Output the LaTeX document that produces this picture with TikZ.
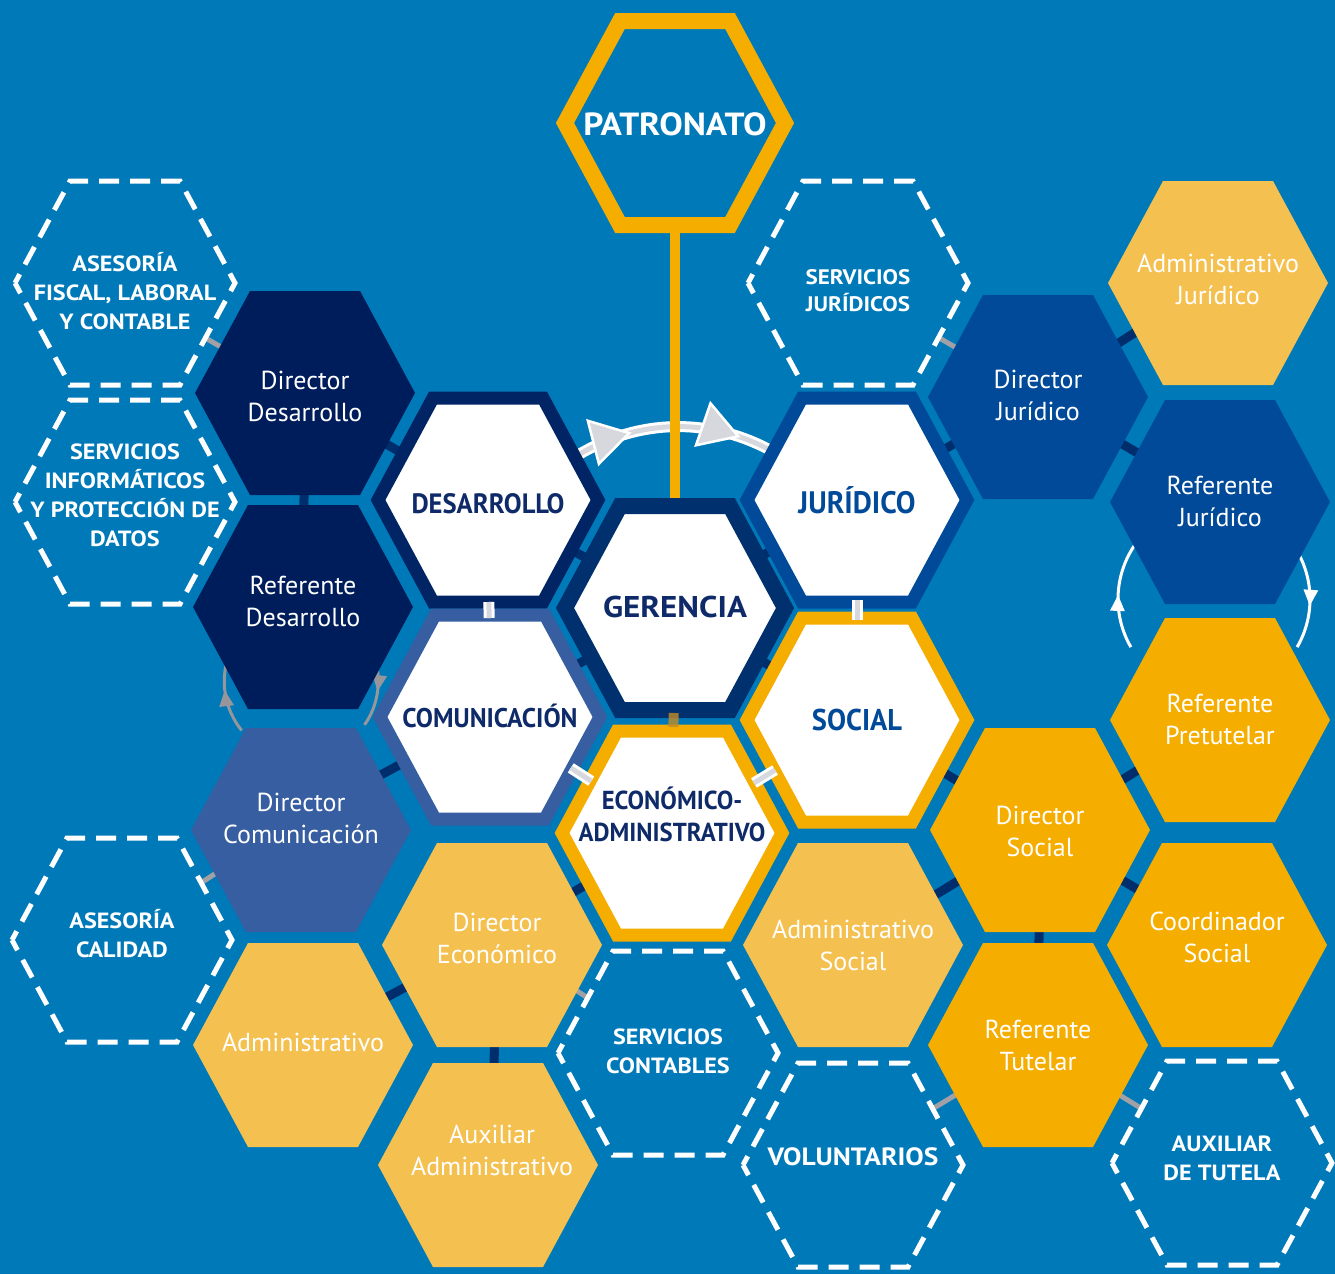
\documentclass[tikz,border=0pt]{standalone}
\usepackage{fontspec}
\setmainfont{PT Sans}
\newfontfamily\hubfont[FakeStretch=0.95]{PT Sans}
\newfontfamily\widefont[FakeStretch=1.1]{PT Sans}
\usepackage{tikz}
\usetikzlibrary{positioning, calc, arrows.meta, shapes.geometric, decorations.markings}
\usepackage{xcolor}

\definecolor{bgblue}{RGB}{0,121,185}
\definecolor{cellnavy}{RGB}{0,29,91}
\definecolor{ringnavy}{RGB}{0,36,100}
\definecolor{gernavy}{RGB}{0,48,110}
\definecolor{jurblue}{RGB}{0,74,153}
\definecolor{comblue}{RGB}{54,94,160}
\definecolor{cellorange}{RGB}{245,173,0}
\definecolor{lightorange}{RGB}{244,192,79}
\definecolor{textnavy}{RGB}{14,42,105}
\definecolor{linknavy}{RGB}{0,45,108}
\definecolor{linkgray}{RGB}{160,160,165}
\definecolor{flowgray}{RGB}{214,216,222}
\definecolor{loopgray}{RGB}{150,150,155}
\definecolor{ecobar}{RGB}{195,140,35}

\pgfdeclarelayer{background}
\pgfdeclarelayer{links}
\pgfsetlayers{background,links,main}

\tikzset{
	pics/hexa/.style={code={% flat topped hexagon round the pic's origin
		\path[pic actions] (-110,0) -- (-55,-102) -- (55,-102) -- (110,0) -- (55,102) -- (-55,102) -- cycle;
	}},
}

\begin{document}
\begin{tikzpicture}[
		% GLOBAL CFG
		x=1pt, y=-1pt,
		font=\fontsize{26}{32}\selectfont,
		% Styles
		cell/.style={% For the coloured posts
			line join=miter,
		},
		hub/.style={% For the central areas
			fill=white,
			line width=13pt,
		},
		dashcell/.style={% For the external services
			draw=white,
			fill=bgblue,
			line width=5pt,
			dash pattern=on 20pt off 11pt,
			dash phase=10pt,
		},
		celltext/.style={text=white, align=center},
		dashtext/.style={% bold white capitals
			text=white, align=center,
			font=\widefont\bfseries\fontsize{22}{29}\selectfont
		},
		hubtext/.style={% narrow bold capitals
			text=textnavy, align=center,
			font=\hubfont\bfseries\fontsize{28}{32}\selectfont
		},
		navylink/.style={draw=linknavy, line width=9pt},
		graylink/.style={draw=linkgray, line width=5pt},
		lightlink/.style={draw=white, double=flowgray, double distance=5pt, line width=3pt},
		loopline/.style={% arcs with an arrow head half way
			line width=3pt,
			postaction={decorate},
			decoration={markings, mark=at position #1 with {\arrow{Triangle[length=16pt,width=14pt]}}}
		},
		flowband/.style={draw=white, double=flowgray, double distance=5pt, line width=3pt},
		flowtip/.style={% big heads on the band
			isosceles triangle,
			isosceles triangle apex angle=62,
			fill=flowgray, draw=white, line width=2.5pt,
			minimum size=37pt, inner sep=0pt,
		},
		]
		\useasboundingbox (0,0) rectangle (1335,1274);
		\begin{pgfonlayer}{background}
			\fill[bgblue] (0,0) rectangle (1335,1274);
		\end{pgfonlayer}
		
		% First column: external services
		\pic[dashcell] at (125,283) {hexa};
		\node[dashtext] (fiscal) at (125,291) {ASESORÍA\\FISCAL, LABORAL\\Y CONTABLE};
		\pic[dashcell] at (125,502) {hexa};
		\node[dashtext] (informat) at (125,495) {SERVICIOS\\INFORMÁTICOS\\Y PROTECCIÓN DE\\DATOS};
		\pic[dashcell] at (122,940) {hexa};
		\node[dashtext] (calidad) at (122,934) {ASESORÍA\\CALIDAD};
		
		% Second column
		\pic[cell, fill=cellnavy] at (305,393) {hexa};
		\node[celltext] (dirdes) at (305,396) {Director\\Desarrollo};
		\pic[cell, fill=cellnavy] at (303,607) {hexa};
		\node[celltext] (refdes) at (303,601) {Referente\\Desarrollo};
		\pic[cell, fill=comblue] at (301,830) {hexa};
		\node[celltext] (dircom) at (301,818) {Director\\Comunicación};
		\pic[cell, fill=lightorange] at (303,1045) {hexa};
		\node[celltext] (admin) at (303,1042) {Administrativo};
		
		% Third column
		\pic[hub, draw=ringnavy] at (488,500) {hexa};
		\node[hubtext] (desarrollo) at (488,504) {DESARROLLO};
		\pic[hub, draw=comblue] at (490,717) {hexa};
		\node[hubtext, font=\hubfont\bfseries\fontsize{27}{32}\selectfont] (comunicacion) at (490,716) {COMUNICACIÓN};
		\pic[cell, fill=lightorange] at (492,945) {hexa};
		\node[celltext] (direco) at (497,938) {Director\\Económico};
		\pic[cell, fill=lightorange] at (488,1165) {hexa};
		\node[celltext] (auxadm) at (492,1150) {Auxiliar\\Administrativo};
		
		% Middle column
		\pic[draw=cellorange, fill=bgblue, line width=16pt] at (675,123) {hexa};
		\node[text=white, font=\widefont\bfseries\fontsize{32}{34}\selectfont] (patronato) at (675,124) {PATRONATO};
		\pic[hub, draw=gernavy, line width=16pt] at (675,608) {hexa};
		\node[hubtext, font=\widefont\bfseries\fontsize{30}{32}\selectfont] (gerencia) at (675,607) {GERENCIA};
		\pic[hub, draw=cellorange] at (672,833) {hexa};
		\coordinate (economico) at (672,833);
		\node[hubtext, font=\hubfont\bfseries\fontsize{26}{32}\selectfont] (ecolabel) at (672,814) {ECONÓMICO-\\ADMINISTRATIVO};
		\pic[dashcell] at (668,1053) {hexa};
		\node[dashtext] (contables) at (668,1051) {SERVICIOS\\CONTABLES};
		
		% Fifth column
		\pic[dashcell] at (858,283) {hexa};
		\node[dashtext, font=\widefont\bfseries\fontsize{21}{27}\selectfont] (servjur) at (858,291) {SERVICIOS\\JURÍDICOS};
		\pic[hub, draw=jurblue] at (857,500) {hexa};
		\node[hubtext, text=jurblue, font=\hubfont\bfseries\fontsize{31}{32}\selectfont] (juridico) at (857,500) {JURÍDICO};
		\pic[hub, draw=cellorange] at (857,720) {hexa};
		\node[hubtext, text=jurblue, font=\hubfont\bfseries\fontsize{30}{32}\selectfont] (social) at (857,720) {SOCIAL};
		\pic[cell, fill=lightorange] at (853,945) {hexa};
		\node[celltext] (admsoc) at (853,945) {Administrativo\\Social};
		\pic[dashcell] at (853,1165) {hexa};
		\node[dashtext, font=\widefont\bfseries\fontsize{25}{29}\selectfont] (voluntarios) at (853,1157) {VOLUNTARIOS};
		
		% Sixth column
		\pic[cell, fill=jurblue] at (1038,397) {hexa};
		\node[celltext] (dirjur) at (1038,395) {Director\\Jurídico};
		\pic[cell, fill=cellorange] at (1040,830) {hexa};
		\node[celltext] (dirsoc) at (1040,831) {Director\\Social};
		\pic[cell, fill=cellorange] at (1038,1045) {hexa};
		\node[celltext] (reftut) at (1038,1045) {Referente\\Tutelar};
		
		% Last column
		\pic[cell, fill=lightorange] at (1218,283) {hexa};
		\node[celltext] (admjur) at (1218,279) {Administrativo\\Jurídico};
		\pic[cell, fill=jurblue] at (1220,502) {hexa};
		\node[celltext] (refjur) at (1220,501) {Referente\\Jurídico};
		\pic[cell, fill=cellorange] at (1220,720) {hexa};
		\node[celltext] (refpre) at (1220,719) {Referente\\Pretutelar};
		\pic[cell, fill=cellorange] at (1217,945) {hexa};
		\node[celltext] (coordsoc) at (1217,937) {Coordinador\\Social};
		\pic[dashcell] at (1222,1163) {hexa};
		\node[dashtext] (auxtut) at (1222,1158) {AUXILIAR\\DE TUTELA};
		
		% Links behind the hexagons
		\begin{pgfonlayer}{links}
			\draw[navylink] (dirdes) -- (refdes);
			\draw[navylink] (dirdes) -- (desarrollo);
			\draw[navylink] (dircom) -- (comunicacion);
			\draw[navylink] (direco) -- (economico);
			\draw[navylink] (direco) -- (admin);
			\draw[navylink] (direco) -- (auxadm);
			\draw[navylink] (dirjur) -- (juridico);
			\draw[navylink] (dirjur) -- (admjur);
			\draw[navylink] (dirjur) -- (refjur);
			\draw[navylink] (social) -- (dirsoc);
			\draw[navylink] (admsoc) -- (dirsoc);
			\draw[navylink] (dirsoc) -- (refpre);
			\draw[navylink] (dirsoc) -- (coordsoc);
			\draw[navylink] (dirsoc) -- (reftut);
			\draw[navylink] (desarrollo) -- (gerencia);
			\draw[navylink] (gerencia) -- (juridico);
			\draw[navylink] (gerencia) -- (social);
			\draw[navylink] (gerencia) -- (comunicacion);
			
			\draw[graylink] (fiscal) -- (dirdes);
			\draw[graylink] (informat) -- (dirdes);
			\draw[graylink] (calidad) -- (dircom);
			\draw[graylink] (direco) -- (contables);
			\draw[graylink] (servjur) -- (dirjur);
			\draw[graylink] (reftut) -- (voluntarios);
			\draw[graylink] (reftut) -- (auxtut);
			
			% Loops
			\draw[loopline=0.55, loopgray] ($(refdes)!0.37!(dircom)$) ++(141:78) arc[start angle=141, end angle=200, radius=78];
			\draw[loopline=0.5, loopgray] ($(refdes)!0.37!(dircom)$) ++(-20:76) arc[start angle=-20, end angle=35, radius=76];
			\draw[loopline=0.5, white] ($(refjur)!0.45!(refpre)+(-6,0)$) ++(150:96) arc[start angle=150, end angle=215, radius=96];
			\draw[loopline=0.6, white] ($(refjur)!0.45!(refpre)+(-6,0)$) ++(-35:96) arc[start angle=-35, end angle=30, radius=96];
			
			% Desarrollo to Juridico
			\draw[flowband] ($(desarrollo)+(90,-49)$) .. controls ($(desarrollo)+(152,-86)$) and ($(juridico)+(-147,-82)$) .. ($(juridico)+(-87,-50)$)
				node[flowtip, pos=0.28, sloped, anchor=apex] {}
				node[flowtip, pos=0.84, sloped, anchor=apex] {};
			
			% Patronato down to Gerencia
			\draw[cellorange, line width=10pt] (patronato) -- (gerencia);
		\end{pgfonlayer}
		
		% Links between the central areas
		\draw[lightlink, shorten <=98pt, shorten >=98pt] (desarrollo.center) -- (comunicacion.center);
		\draw[lightlink, shorten <=100pt, shorten >=100pt] (juridico.center) -- (social.center);
		\draw[lightlink, shorten <=96pt, shorten >=96pt] (comunicacion.center) -- (economico);
		\draw[lightlink, shorten <=96pt, shorten >=96pt] (economico) -- (social.center);
		\draw[ecobar, line width=10pt, opacity=.8, shorten <=106pt, shorten >=106pt] (gerencia.center) -- (economico);
		
	\end{tikzpicture}
\end{document}
